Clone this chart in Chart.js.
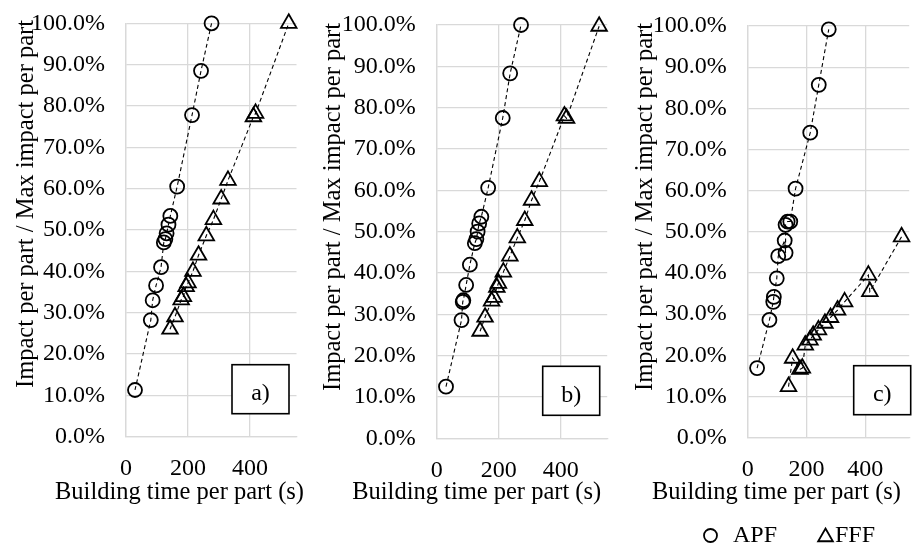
<!DOCTYPE html>
<html>
<head>
<meta charset="utf-8">
<script src="https://cdn.jsdelivr.net/npm/chart.js@4.4.1/dist/chart.umd.min.js"></script>
<style>
  html, body { margin: 0; padding: 0; background: #fff; }
  #wrap { position: relative; width: 920px; height: 549px; overflow: hidden; background: #fff; }
  #wrap canvas { position: absolute; top: 0; }
</style>
</head>
<body>
<div id="wrap">
  <canvas id="panelA" width="311" height="549" style="left:0px"></canvas>
  <canvas id="panelB" width="311" height="549" style="left:311px"></canvas>
  <canvas id="panelC" width="298" height="549" style="left:622px"></canvas>
</div>
<script>
// Building time per part (s) and normalised impact per part (%), one pair of arrays per series
const aApfTime   = [29, 80, 86, 97, 113, 122, 127, 131, 137, 143, 165, 213, 242, 276];
const aApfImpact = [11.3, 28.2, 33.0, 36.6, 41.0, 47.0, 47.8, 49.2, 51.3, 53.4, 60.5, 77.8, 88.5, 100.0];
const aFffTime   = [142, 158, 178, 185, 194, 200, 216, 234, 259, 282, 307, 329, 411, 418, 525];
const aFffImpact = [26.0, 29.0, 33.1, 33.9, 36.3, 37.2, 40.0, 43.9, 48.6, 52.5, 57.5, 62.0, 77.4, 78.2, 100.0];

const bApfTime   = [30, 80, 84, 86, 95, 107, 123, 128, 132, 137, 144, 166, 213, 237, 272];
const bApfImpact = [12.5, 28.6, 33.0, 33.4, 37.1, 42.0, 47.2, 48.2, 50.0, 52.0, 53.6, 60.6, 77.5, 88.3, 100.0];
const bFffTime   = [140, 156, 177, 185, 194, 199, 215, 236, 260, 284, 306, 331, 412, 419, 524];
const bFffImpact = [25.9, 29.3, 33.2, 34.1, 36.5, 37.5, 40.2, 44.1, 48.5, 52.7, 57.6, 62.1, 78.0, 77.4, 99.7];

const cApfTime   = [32, 74, 87, 89, 99, 104, 126, 129, 129, 136, 145, 163, 213, 242, 276];
const cApfImpact = [16.9, 28.6, 33.0, 34.2, 38.7, 44.1, 47.9, 44.9, 51.7, 52.5, 52.5, 60.5, 74.1, 85.7, 99.2];
const cFffTime   = [139, 153, 178, 186, 196, 212, 223, 241, 263, 282, 306, 330, 411, 416, 524];
const cFffImpact = [12.4, 19.3, 16.6, 16.9, 22.5, 23.7, 24.9, 26.2, 27.8, 29.2, 31.0, 33.0, 39.5, 35.5, 48.8];

const seriesNames = ['APF', 'FFF'];
const panelTags = ['a)', 'b)', 'c)'];
const yTicks = [0, 10, 20, 30, 40, 50, 60, 70, 80, 90, 100];
const xTicks = [0, 200, 400];
const xTitle = 'Building time per part (s)';
const yTitle = 'Impact per part / Max impact per part';

const SERIF = '"Liberation Serif", "Times New Roman", serif';
Chart.defaults.font.family = SERIF;
Chart.defaults.color = '#000';

const pairs = (xs, ys) => xs.map((x, i) => ({ x, y: ys[i] }));

function series(label, xs, ys, style, radius) {
  return {
    label,
    data: pairs(xs, ys),
    showLine: true,
    borderColor: '#000',
    borderWidth: 1.1,
    borderDash: [4, 3],
    pointStyle: style,
    pointRadius: radius,
    pointHoverRadius: radius,
    pointBorderWidth: 1.8,
    pointBorderColor: '#000',
    pointBackgroundColor: 'rgba(0,0,0,0)',
    backgroundColor: 'rgba(0,0,0,0)',
    fill: false,
    tension: 0,
    clip: false
  };
}

function marker(ctx, style, radius, x, y) {
  ctx.save();
  ctx.strokeStyle = '#000';
  ctx.fillStyle = 'rgba(0,0,0,0)';
  ctx.lineWidth = 1.8;
  if (Chart.helpers && Chart.helpers.drawPoint) {
    Chart.helpers.drawPoint(ctx, { pointStyle: style, radius, borderWidth: 1.8, rotation: 0 }, x, y);
  } else {
    ctx.beginPath();
    if (style === 'triangle') {
      for (let k = 0; k < 3; k++) {
        const a = k * 2 * Math.PI / 3;
        ctx[k ? 'lineTo' : 'moveTo'](x + Math.sin(a) * radius, y - Math.cos(a) * radius);
      }
      ctx.closePath();
    } else {
      ctx.arc(x, y, radius, 0, 2 * Math.PI);
    }
    ctx.stroke();
  }
  ctx.restore();
}

// Axis captions, the boxed panel tag and (on one panel) the series key
const captions = {
  id: 'captions',
  afterDraw(chart, args, o) {
    const ctx = chart.ctx;
    const area = chart.chartArea;
    ctx.save();
    ctx.fillStyle = '#000';
    ctx.font = '24.5px ' + SERIF;
    ctx.textBaseline = 'alphabetic';
    ctx.textAlign = 'center';
    ctx.fillText(xTitle, o.xTitleX, o.xTitleY);
    ctx.save();
    ctx.translate(o.yTitleX, o.yTitleY);
    ctx.rotate(-Math.PI / 2);
    ctx.fillText(yTitle, 0, 0);
    ctx.restore();

    const bx = area.left + 106, by = area.bottom - 72, bw = 57, bh = 49;
    ctx.fillStyle = '#fff';
    ctx.fillRect(bx, by, bw, bh);
    ctx.strokeStyle = '#000';
    ctx.lineWidth = 1.6;
    ctx.strokeRect(bx, by, bw, bh);
    ctx.fillStyle = '#000';
    ctx.font = '24px ' + SERIF;
    ctx.fillText(o.tag, bx + bw / 2, by + bh / 2 + 11);

    if (o.key) {
      const ds = chart.data.datasets;
      ctx.textAlign = 'left';
      ctx.font = '24px ' + SERIF;
      o.key.forEach((k, i) => {
        marker(ctx, ds[i].pointStyle, k.r, k.mx, k.my);
        ctx.fillStyle = '#000';
        ctx.fillText(ds[i].label, k.tx, o.keyBaseline);
      });
    }
    ctx.restore();
  }
};

function makePanel(id, apfX, apfY, fffX, fffY, p) {
  const grid = { color: '#d9d9d9', lineWidth: 1.3, drawTicks: false };
  const border = { display: true, color: '#d9d9d9', width: 1.3 };
  return new Chart(document.getElementById(id), {
    type: 'scatter',
    data: {
      datasets: [
        series(seriesNames[0], apfX, apfY, 'circle', 7),
        series(seriesNames[1], fffX, fffY, 'triangle', 9)
      ]
    },
    options: {
      responsive: false,
      devicePixelRatio: 1,
      animation: false,
      events: [],
      layout: { padding: { left: 0, right: p.padRight, top: p.top, bottom: 0 } },
      scales: {
        x: {
          type: 'linear',
          min: 0, max: 550,
          grid, border,
          afterBuildTicks: s => { s.ticks = xTicks.map(v => ({ value: v })); },
          afterFit: s => { s.height = p.xHeight; s.paddingLeft = 0; s.paddingRight = 0; },
          ticks: { padding: 18, font: { size: 24 }, color: '#000' }
        },
        y: {
          type: 'linear',
          min: 0, max: 100,
          grid, border,
          afterBuildTicks: s => { s.ticks = yTicks.map(v => ({ value: v })); },
          afterFit: s => { s.width = p.yWidth; s.paddingTop = 0; s.paddingBottom = 0; },
          ticks: { padding: 21, font: { size: 24 }, color: '#000',
                   callback: v => v.toFixed(1) + '%' }
        }
      },
      plugins: {
        legend: { display: false },
        tooltip: { enabled: false },
        captions: p.captions
      }
    },
    plugins: [captions]
  });
}

makePanel('panelA', aApfTime, aApfImpact, aFffTime, aFffImpact, {
  padRight: 14.5, top: 23.3, xHeight: 112.3, yWidth: 126,
  captions: { tag: panelTags[0], xTitleX: 179.5, xTitleY: 499, yTitleX: 33.3, yTitleY: 204 }
});
makePanel('panelB', bApfTime, bApfImpact, bFffTime, bFffImpact, {
  padRight: 14.8, top: 25, xHeight: 110.7, yWidth: 125.7,
  captions: { tag: panelTags[1], xTitleX: 165.7, xTitleY: 499, yTitleX: 29, yTitleY: 207 }
});
makePanel('panelC', cApfTime, cApfImpact, cFffTime, cFffImpact, {
  padRight: 3.3, top: 26, xHeight: 111.3, yWidth: 125.7,
  captions: {
    tag: panelTags[2], xTitleX: 154.5, xTitleY: 499, yTitleX: 29.7, yTitleY: 207,
    keyBaseline: 541.5,
    key: [ { mx: 88.5, my: 535.5, r: 6.5, tx: 111 }, { mx: 203.5, my: 537, r: 8.5, tx: 213 } ]
  }
});
</script>
</body>
</html>
